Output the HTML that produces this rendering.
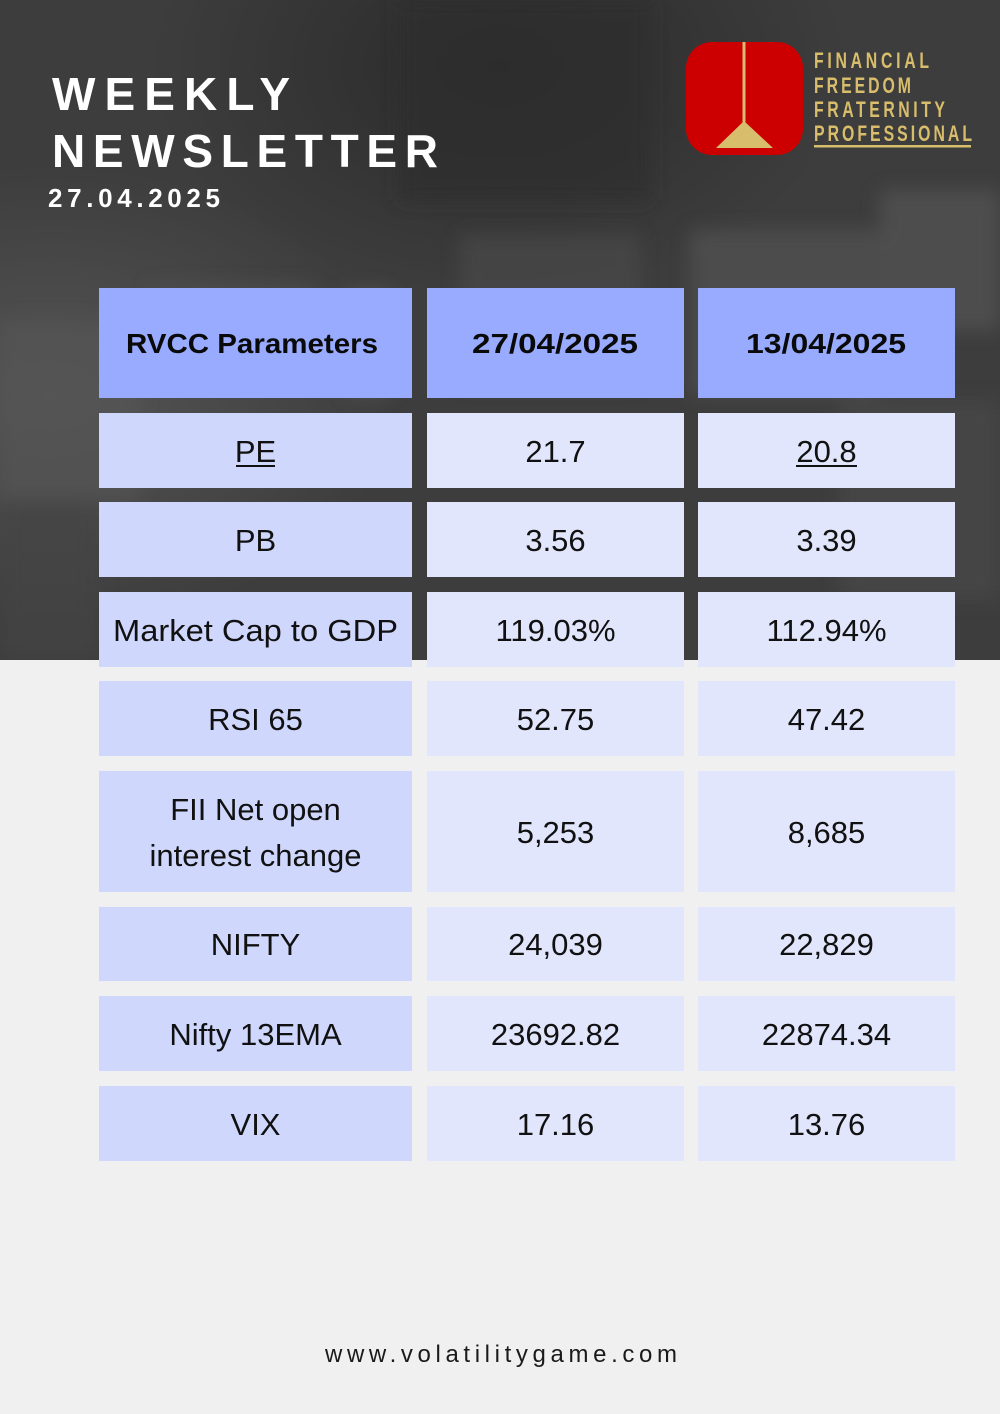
<!DOCTYPE html>
<html>
<head>
<meta charset="utf-8">
<style>
html,body{margin:0;padding:0;background:#f0f0f0;}
body{width:1000px;height:1414px;overflow:hidden;}
svg{display:block;}
</style>
</head>
<body>
<svg width="1000" height="1414" viewBox="0 0 1000 1414" xmlns="http://www.w3.org/2000/svg">
  <defs>
    <filter id="blur" x="-20%" y="-20%" width="140%" height="140%">
      <feGaussianBlur stdDeviation="9"/>
    </filter>
    <clipPath id="photo"><rect x="0" y="0" width="1000" height="660"/></clipPath>
    <radialGradient id="g1" cx="0.05" cy="0.6" r="0.35">
      <stop offset="0" stop-color="#555555"/>
      <stop offset="1" stop-color="#555555" stop-opacity="0"/>
    </radialGradient>
    <radialGradient id="g2" cx="0.5" cy="0.1" r="0.35">
      <stop offset="0" stop-color="#2a2a2a"/>
      <stop offset="1" stop-color="#2a2a2a" stop-opacity="0"/>
    </radialGradient>
  </defs>

  <rect x="0" y="0" width="1000" height="1414" fill="#f0f0f0"/>

  <!-- dark photo area -->
  <g clip-path="url(#photo)">
    <rect x="0" y="0" width="1000" height="660" fill="#3d3d3d"/>
    <rect x="0" y="0" width="1000" height="660" fill="url(#g1)"/>
    <rect x="0" y="0" width="1000" height="660" fill="url(#g2)"/>
    <g filter="url(#blur)" opacity="0.7">
      <rect x="0" y="320" width="140" height="180" fill="#555555"/>
      <rect x="150" y="285" width="165" height="95" fill="#4f4f4f"/>
      <rect x="345" y="290" width="45" height="105" fill="#5a5a5a"/>
      <rect x="460" y="235" width="180" height="150" fill="#484848"/>
      <rect x="690" y="230" width="190" height="165" fill="#525252"/>
      <rect x="880" y="190" width="120" height="140" fill="#545454"/>
      <rect x="0" y="500" width="100" height="160" fill="#454545"/>
      <rect x="400" y="0" width="250" height="200" fill="#2e2e2e"/>
      <rect x="840" y="400" width="160" height="200" fill="#484848"/>
    </g>
  </g>

  <!-- Title -->
  <g fill="#ffffff" font-family="'Liberation Sans', sans-serif" font-weight="bold">
    <text x="52" y="110" font-size="46" textLength="238" lengthAdjust="spacing">WEEKLY</text>
    <text x="52" y="167" font-size="46" textLength="386" lengthAdjust="spacing">NEWSLETTER</text>
    <text x="48" y="207" font-size="26" textLength="172" lengthAdjust="spacing">27.04.2025</text>
  </g>

  <!-- Logo -->
  <rect x="686" y="42" width="117" height="113" rx="26" ry="26" fill="#cc0000"/>
  <rect x="742.5" y="42" width="3" height="82" fill="#d8bd6c"/>
  <polygon points="744,121 716,148 773,148" fill="#d8bd6c"/>
  <g transform="scale(0.72,1)" fill="#d8bd6c" font-family="'Liberation Sans', sans-serif" font-weight="bold" font-size="22">
    <text x="1130.6" y="68" textLength="159.7" lengthAdjust="spacing">FINANCIAL</text>
    <text x="1130.6" y="93" textLength="134.7" lengthAdjust="spacing">FREEDOM</text>
    <text x="1130.6" y="117" textLength="181.9" lengthAdjust="spacing">FRATERNITY</text>
    <text x="1130.6" y="141" textLength="219.4" lengthAdjust="spacing">PROFESSIONAL</text>
  </g>
  <rect x="814" y="145" width="157" height="2.5" fill="#d8bd6c"/>

  <!-- Table header -->
  <rect x="99" y="288" width="313" height="110" fill="#98abff"/>
  <rect x="427" y="288" width="257" height="110" fill="#98abff"/>
  <rect x="698" y="288" width="257" height="110" fill="#98abff"/>
  <g fill="#0a0a0a" font-family="'Liberation Sans', sans-serif" font-weight="bold" font-size="28" text-anchor="middle">
    <text x="252" y="353" textLength="252" lengthAdjust="spacingAndGlyphs">RVCC Parameters</text>
    <text x="555" y="353" textLength="166" lengthAdjust="spacingAndGlyphs">27/04/2025</text>
    <text x="826" y="353" textLength="160" lengthAdjust="spacingAndGlyphs">13/04/2025</text>
  </g>

  <!-- Rows -->
  <g>
    <rect x="99" y="413" width="313" height="75" fill="#cfd7fd"/>
    <rect x="427" y="413" width="257" height="75" fill="#e2e6fc"/>
    <rect x="698" y="413" width="257" height="75" fill="#e2e6fc"/>

    <rect x="99" y="502" width="313" height="75" fill="#cfd7fd"/>
    <rect x="427" y="502" width="257" height="75" fill="#e2e6fc"/>
    <rect x="698" y="502" width="257" height="75" fill="#e2e6fc"/>

    <rect x="99" y="592" width="313" height="75" fill="#cfd7fd"/>
    <rect x="427" y="592" width="257" height="75" fill="#e2e6fc"/>
    <rect x="698" y="592" width="257" height="75" fill="#e2e6fc"/>

    <rect x="99" y="681" width="313" height="75" fill="#cfd7fd"/>
    <rect x="427" y="681" width="257" height="75" fill="#e2e6fc"/>
    <rect x="698" y="681" width="257" height="75" fill="#e2e6fc"/>

    <rect x="99" y="771" width="313" height="121" fill="#cfd7fd"/>
    <rect x="427" y="771" width="257" height="121" fill="#e2e6fc"/>
    <rect x="698" y="771" width="257" height="121" fill="#e2e6fc"/>

    <rect x="99" y="907" width="313" height="74" fill="#cfd7fd"/>
    <rect x="427" y="907" width="257" height="74" fill="#e2e6fc"/>
    <rect x="698" y="907" width="257" height="74" fill="#e2e6fc"/>

    <rect x="99" y="996" width="313" height="75" fill="#cfd7fd"/>
    <rect x="427" y="996" width="257" height="75" fill="#e2e6fc"/>
    <rect x="698" y="996" width="257" height="75" fill="#e2e6fc"/>

    <rect x="99" y="1086" width="313" height="75" fill="#cfd7fd"/>
    <rect x="427" y="1086" width="257" height="75" fill="#e2e6fc"/>
    <rect x="698" y="1086" width="257" height="75" fill="#e2e6fc"/>
  </g>

  <g fill="#111111" font-family="'Liberation Sans', sans-serif" font-size="31" text-anchor="middle">
    <text x="255.5" y="462">PE</text>
    <text x="555.5" y="462">21.7</text>
    <text x="826.5" y="462">20.8</text>

    <text x="255.5" y="551">PB</text>
    <text x="555.5" y="551">3.56</text>
    <text x="826.5" y="551">3.39</text>

    <text x="255.5" y="641" textLength="285" lengthAdjust="spacingAndGlyphs">Market Cap to GDP</text>
    <text x="555.5" y="641">119.03%</text>
    <text x="826.5" y="641">112.94%</text>

    <text x="255.5" y="730">RSI 65</text>
    <text x="555.5" y="730">52.75</text>
    <text x="826.5" y="730">47.42</text>

    <text x="255.5" y="820">FII Net open</text>
    <text x="255.5" y="866">interest change</text>
    <text x="555.5" y="843">5,253</text>
    <text x="826.5" y="843">8,685</text>

    <text x="255.5" y="955">NIFTY</text>
    <text x="555.5" y="955">24,039</text>
    <text x="826.5" y="955">22,829</text>

    <text x="255.5" y="1045">Nifty 13EMA</text>
    <text x="555.5" y="1045">23692.82</text>
    <text x="826.5" y="1045">22874.34</text>

    <text x="255.5" y="1135">VIX</text>
    <text x="555.5" y="1135">17.16</text>
    <text x="826.5" y="1135">13.76</text>
  </g>
  <rect x="236" y="465" width="39" height="2" fill="#111111"/>
  <rect x="796" y="465" width="61" height="2" fill="#111111"/>

  <!-- Footer -->
  <text x="325" y="1362" font-family="'Liberation Sans', sans-serif" font-size="24" fill="#1a1a1a" textLength="352" lengthAdjust="spacing">www.volatilitygame.com</text>
</svg>
</body>
</html>
